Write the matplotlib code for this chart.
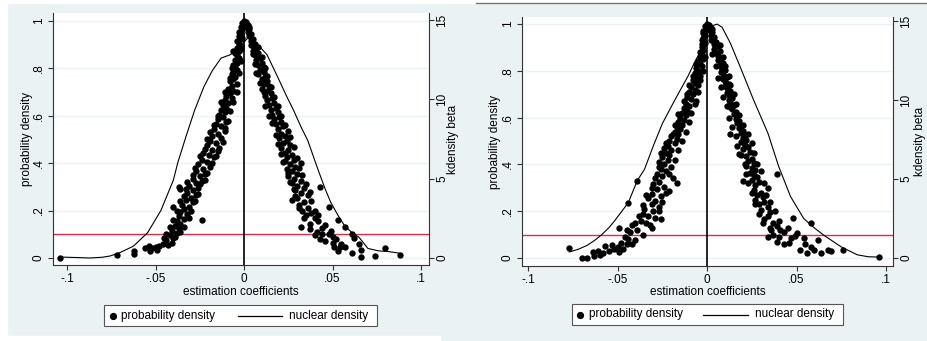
import matplotlib.pyplot as plt
from matplotlib.lines import Line2D
from matplotlib.patches import Rectangle

plt.rcParams['font.family'] = ['Liberation Sans', 'DejaVu Sans']

# ---- panel A: probability density dots (x, y) ----
a_dots = [
    (0.000, 1.000), (-0.001, 0.990), (0.000, 0.982), (-0.002, 0.975), (-0.001, 0.965), (-0.003, 0.955),
    (-0.002, 0.945), (-0.003, 0.935), (-0.002, 0.925), (-0.004, 0.915), (-0.003, 0.905), (-0.002, 0.895),
    (-0.004, 0.885), (-0.003, 0.875), (-0.005, 0.865), (-0.004, 0.855), (-0.003, 0.845), (-0.005, 0.835),
    (-0.004, 0.825), (-0.006, 0.815), (-0.005, 0.805), (-0.004, 0.795), (-0.006, 0.785), (-0.007, 0.775),
    (-0.005, 0.765), (-0.006, 0.755), (-0.008, 0.745), (-0.004, 0.735), (-0.007, 0.725), (-0.009, 0.715),
    (-0.006, 0.705), (-0.008, 0.695), (-0.010, 0.685), (-0.007, 0.675), (-0.011, 0.665), (-0.009, 0.655),
    (-0.012, 0.645), (-0.010, 0.635), (-0.013, 0.625), (-0.011, 0.615), (-0.014, 0.605), (-0.012, 0.595),
    (-0.015, 0.585), (-0.010, 0.575), (-0.016, 0.565), (-0.013, 0.555), (-0.017, 0.545), (-0.011, 0.535),
    (-0.015, 0.525), (-0.018, 0.515), (-0.013, 0.505), (-0.019, 0.495), (-0.016, 0.485), (-0.021, 0.475),
    (-0.014, 0.465), (-0.018, 0.455), (-0.023, 0.445), (-0.020, 0.435), (-0.017, 0.425), (-0.024, 0.415),
    (-0.021, 0.405), (-0.026, 0.395), (-0.019, 0.385), (-0.023, 0.375), (-0.027, 0.365), (-0.022, 0.355),
    (-0.025, 0.345), (-0.029, 0.335), (-0.024, 0.325), (-0.027, 0.315), (-0.031, 0.305), (-0.026, 0.295),
    (-0.037, 0.300), (-0.036, 0.290), (-0.029, 0.285), (-0.032, 0.275), (-0.027, 0.265), (-0.030, 0.255),
    (-0.033, 0.245), (-0.029, 0.235), (-0.035, 0.225), (-0.031, 0.215), (-0.040, 0.215), (-0.034, 0.205),
    (-0.036, 0.195), (-0.032, 0.185), (-0.037, 0.175), (-0.034, 0.165), (-0.024, 0.160), (-0.038, 0.155),
    (-0.036, 0.145), (-0.039, 0.135), (-0.037, 0.125), (-0.041, 0.115), (-0.038, 0.105), (-0.042, 0.095),
    (-0.040, 0.085), (-0.044, 0.075), (-0.041, 0.065), (-0.043, 0.055), (-0.046, 0.060), (-0.048, 0.050),
    (-0.050, 0.045), (-0.049, 0.035), (-0.052, 0.040), (-0.054, 0.050), (-0.053, 0.030), (-0.056, 0.040),
    (-0.062, 0.030), (-0.0625, 0.018), (-0.072, 0.013), (-0.104, 0.000),
    (-0.001, 0.930), (-0.002, 0.880), (-0.006, 0.875), (-0.002, 0.830), (-0.007, 0.800), (-0.003, 0.780),
    (-0.008, 0.760), (-0.004, 0.700), (-0.011, 0.700), (-0.006, 0.660), (-0.013, 0.660), (-0.008, 0.620),
    (-0.015, 0.600), (-0.009, 0.580), (-0.017, 0.560), (-0.011, 0.550), (-0.019, 0.530), (-0.012, 0.490),
    (-0.021, 0.500), (-0.015, 0.450), (-0.022, 0.460), (-0.016, 0.430), (-0.025, 0.430), (-0.018, 0.400),
    (-0.028, 0.380), (-0.021, 0.360), (-0.029, 0.350), (-0.022, 0.330), (-0.032, 0.320), (-0.025, 0.310),
    (-0.033, 0.290), (-0.026, 0.270), (-0.034, 0.260), (-0.028, 0.240), (-0.036, 0.240), (-0.030, 0.200),
    (-0.038, 0.200), (-0.031, 0.170), (-0.040, 0.160), (-0.034, 0.130), (-0.042, 0.130), (-0.036, 0.110),
    (-0.044, 0.100), (-0.039, 0.090), (-0.045, 0.085),
    (0.001, 0.995), (0.002, 0.985), (0.001, 0.975), (0.003, 0.965), (0.002, 0.955), (0.004, 0.945),
    (0.003, 0.935), (0.005, 0.925), (0.004, 0.915), (0.006, 0.905), (0.005, 0.895), (0.007, 0.885),
    (0.005, 0.875), (0.008, 0.865), (0.006, 0.855), (0.009, 0.845), (0.007, 0.835), (0.010, 0.825),
    (0.008, 0.815), (0.011, 0.805), (0.009, 0.795), (0.011, 0.785), (0.008, 0.775), (0.012, 0.765),
    (0.010, 0.755), (0.013, 0.745), (0.011, 0.735), (0.014, 0.725), (0.010, 0.715), (0.013, 0.705),
    (0.015, 0.695), (0.012, 0.685), (0.016, 0.675), (0.013, 0.665), (0.017, 0.655), (0.014, 0.645),
    (0.018, 0.635), (0.015, 0.625), (0.019, 0.615), (0.016, 0.605), (0.020, 0.595), (0.017, 0.585),
    (0.021, 0.575), (0.018, 0.565), (0.022, 0.555), (0.019, 0.545), (0.025, 0.535), (0.021, 0.525),
    (0.023, 0.515), (0.020, 0.505), (0.024, 0.495), (0.022, 0.485), (0.026, 0.475), (0.021, 0.465),
    (0.025, 0.455), (0.023, 0.445), (0.027, 0.435), (0.024, 0.425), (0.028, 0.415), (0.022, 0.405),
    (0.032, 0.400), (0.026, 0.395), (0.029, 0.385), (0.024, 0.375), (0.027, 0.365), (0.030, 0.355),
    (0.025, 0.345), (0.028, 0.335), (0.032, 0.325), (0.027, 0.315), (0.030, 0.305), (0.043, 0.300),
    (0.034, 0.295), (0.029, 0.285), (0.032, 0.275), (0.036, 0.265), (0.030, 0.255), (0.027, 0.245),
    (0.034, 0.235), (0.031, 0.225), (0.048, 0.215), (0.036, 0.210), (0.033, 0.200), (0.038, 0.190),
    (0.035, 0.180), (0.040, 0.170), (0.053, 0.160), (0.042, 0.155), (0.037, 0.145), (0.032, 0.130),
    (0.057, 0.130), (0.044, 0.125), (0.049, 0.115), (0.044, 0.100), (0.061, 0.100), (0.040, 0.095),
    (0.050, 0.090), (0.062, 0.084), (0.052, 0.080), (0.046, 0.070), (0.065, 0.060), (0.055, 0.060),
    (0.051, 0.047), (0.054, 0.047), (0.066, 0.034), (0.061, 0.020), (0.066, 0.004), (0.074, 0.008),
    (0.0795, 0.042), (0.088, 0.013),
    (0.003, 0.975), (0.004, 0.900), (0.008, 0.890), (0.005, 0.860), (0.010, 0.850), (0.006, 0.820),
    (0.012, 0.800), (0.007, 0.780), (0.013, 0.770), (0.009, 0.740), (0.015, 0.720), (0.011, 0.700),
    (0.017, 0.680), (0.012, 0.640), (0.019, 0.640), (0.014, 0.600), (0.021, 0.600), (0.016, 0.570),
    (0.023, 0.560), (0.018, 0.520), (0.026, 0.510), (0.019, 0.480), (0.028, 0.470), (0.021, 0.440),
    (0.030, 0.420), (0.023, 0.410), (0.031, 0.380), (0.025, 0.360), (0.033, 0.350), (0.026, 0.320),
    (0.035, 0.310), (0.028, 0.290), (0.037, 0.280), (0.029, 0.260), (0.038, 0.240), (0.031, 0.210),
    (0.040, 0.200), (0.034, 0.170), (0.042, 0.180), (0.037, 0.120), (0.046, 0.140), (0.041, 0.110),
    (0.048, 0.100), (0.043, 0.080), (0.050, 0.065), (0.057, 0.047), (0.053, 0.030),
]

# panel A: kernel density of beta (right axis)
a_kd_x = [-0.104, -0.095, -0.087, -0.080, -0.0756, -0.070, -0.0625, -0.0545, -0.047, -0.040,
          -0.0375, -0.033, -0.028, -0.0227, -0.018, -0.013, -0.008, -0.004, 0.000, 0.003,
          0.0057, 0.009, 0.013, 0.019, 0.024, 0.028, 0.032, 0.036, 0.042, 0.046,
          0.049, 0.053, 0.057, 0.061, 0.065, 0.070, 0.076, 0.082, 0.088]
a_kd_y = [0.06, 0.03, 0.00, 0.05, 0.13, 0.35, 0.75, 1.6, 3.0, 4.9,
          6.0, 7.6, 9.3, 10.8, 11.8, 12.6, 12.8, 13.1, 13.6, 14.0,
          13.7, 13.3, 12.8, 11.4, 10.2, 9.3, 8.3, 7.4, 5.5, 4.3,
          3.5, 2.7, 2.0, 1.6, 1.3, 0.6, 0.45, 0.4, 0.3]

# ---- panel B: probability density dots (x, y) ----
b_dots = [
    (0.000, 1.000), (-0.001, 0.990), (0.000, 0.980), (-0.001, 0.970), (-0.002, 0.960), (-0.001, 0.950),
    (-0.002, 0.940), (-0.003, 0.930), (-0.001, 0.920), (-0.002, 0.910), (-0.003, 0.900), (-0.002, 0.890),
    (-0.004, 0.880), (-0.003, 0.870), (-0.004, 0.860), (-0.002, 0.850), (-0.005, 0.840), (-0.004, 0.830),
    (-0.003, 0.820), (-0.006, 0.810), (-0.005, 0.800), (-0.007, 0.790), (-0.004, 0.780), (-0.006, 0.770),
    (-0.008, 0.760), (-0.007, 0.750), (-0.005, 0.740), (-0.009, 0.730), (-0.007, 0.720), (-0.010, 0.710),
    (-0.008, 0.700), (-0.011, 0.690), (-0.009, 0.680), (-0.006, 0.670), (-0.012, 0.660), (-0.010, 0.650),
    (-0.013, 0.640), (-0.011, 0.630), (-0.014, 0.620), (-0.012, 0.610), (-0.015, 0.600), (-0.013, 0.590),
    (-0.016, 0.580), (-0.014, 0.570), (-0.017, 0.560), (-0.015, 0.550), (-0.018, 0.540), (-0.016, 0.530),
    (-0.020, 0.520), (-0.017, 0.510), (-0.021, 0.500), (-0.018, 0.490), (-0.022, 0.480), (-0.024, 0.470),
    (-0.020, 0.460), (-0.023, 0.450), (-0.021, 0.440), (-0.025, 0.430), (-0.022, 0.420), (-0.027, 0.410),
    (-0.024, 0.400), (-0.020, 0.390), (-0.026, 0.380), (-0.023, 0.370), (-0.028, 0.360), (-0.025, 0.350),
    (-0.019, 0.340), (-0.039, 0.330), (-0.027, 0.325), (-0.030, 0.315), (-0.024, 0.305), (-0.028, 0.295),
    (-0.021, 0.285), (-0.031, 0.275), (-0.026, 0.265), (-0.033, 0.255), (-0.029, 0.245), (-0.044, 0.235),
    (-0.031, 0.230), (-0.027, 0.220), (-0.035, 0.210), (-0.030, 0.200), (-0.036, 0.190), (-0.033, 0.180),
    (-0.029, 0.170), (-0.037, 0.160), (-0.034, 0.150), (-0.042, 0.140), (-0.049, 0.130), (-0.031, 0.130),
    (-0.039, 0.120), (-0.043, 0.110), (-0.046, 0.090), (-0.040, 0.077), (-0.044, 0.080), (-0.048, 0.065),
    (-0.045, 0.060), (-0.050, 0.047), (-0.057, 0.050), (-0.052, 0.040), (-0.055, 0.030), (-0.049, 0.025),
    (-0.058, 0.020), (-0.061, 0.030), (-0.063, 0.010), (-0.067, 0.000), (-0.070, 0.000), (-0.077, 0.043),
    (-0.002, 0.970), (-0.003, 0.915), (-0.001, 0.860), (-0.006, 0.830), (-0.002, 0.800), (-0.008, 0.780),
    (-0.004, 0.760), (-0.010, 0.740), (-0.005, 0.710), (-0.011, 0.700), (-0.007, 0.660), (-0.013, 0.670),
    (-0.009, 0.620), (-0.016, 0.615), (-0.010, 0.580), (-0.018, 0.570), (-0.012, 0.540), (-0.019, 0.530),
    (-0.014, 0.500), (-0.023, 0.490), (-0.016, 0.460), (-0.026, 0.450), (-0.018, 0.420), (-0.027, 0.390),
    (-0.021, 0.360), (-0.029, 0.340), (-0.017, 0.320), (-0.031, 0.300), (-0.023, 0.280), (-0.034, 0.270),
    (-0.025, 0.240), (-0.036, 0.225), (-0.027, 0.200), (-0.038, 0.180), (-0.026, 0.165), (-0.040, 0.150),
    (-0.032, 0.140), (-0.045, 0.120), (-0.036, 0.100), (-0.042, 0.060), (-0.047, 0.040), (-0.053, 0.055),
    (-0.060, 0.015), (-0.064, 0.025),
    (0.001, 0.995), (0.002, 0.985), (0.001, 0.975), (0.003, 0.965), (0.002, 0.955), (0.004, 0.945),
    (0.003, 0.935), (0.005, 0.925), (0.004, 0.915), (0.006, 0.905), (0.004, 0.895), (0.007, 0.885),
    (0.005, 0.875), (0.006, 0.865), (0.008, 0.855), (0.006, 0.845), (0.009, 0.835), (0.007, 0.825),
    (0.008, 0.815), (0.010, 0.805), (0.008, 0.795), (0.009, 0.785), (0.011, 0.775), (0.009, 0.765),
    (0.010, 0.755), (0.012, 0.745), (0.010, 0.735), (0.011, 0.725), (0.013, 0.715), (0.011, 0.705),
    (0.012, 0.695), (0.014, 0.685), (0.012, 0.675), (0.013, 0.665), (0.015, 0.655), (0.013, 0.645),
    (0.014, 0.635), (0.016, 0.625), (0.015, 0.615), (0.017, 0.605), (0.016, 0.595), (0.018, 0.585),
    (0.017, 0.575), (0.019, 0.565), (0.018, 0.555), (0.020, 0.545), (0.013, 0.530), (0.019, 0.535),
    (0.021, 0.525), (0.020, 0.515), (0.022, 0.505), (0.019, 0.495), (0.021, 0.485), (0.023, 0.475),
    (0.020, 0.465), (0.024, 0.455), (0.018, 0.445), (0.022, 0.435), (0.025, 0.425), (0.023, 0.415),
    (0.026, 0.405), (0.022, 0.395), (0.025, 0.385), (0.027, 0.375), (0.024, 0.365), (0.039, 0.360),
    (0.026, 0.355), (0.028, 0.345), (0.025, 0.335), (0.020, 0.330), (0.029, 0.325), (0.027, 0.310),
    (0.034, 0.300), (0.026, 0.290), (0.030, 0.280), (0.028, 0.270), (0.031, 0.260), (0.027, 0.250),
    (0.032, 0.240), (0.029, 0.230), (0.034, 0.220), (0.030, 0.205), (0.035, 0.195), (0.034, 0.180),
    (0.048, 0.170), (0.032, 0.165), (0.037, 0.150), (0.058, 0.150), (0.039, 0.135), (0.045, 0.130),
    (0.041, 0.120), (0.036, 0.120), (0.0505, 0.107), (0.037, 0.100), (0.034, 0.090), (0.047, 0.085),
    (0.054, 0.085), (0.062, 0.077), (0.039, 0.070), (0.043, 0.060), (0.058, 0.047), (0.052, 0.034),
    (0.0675, 0.034), (0.069, 0.030), (0.0635, 0.020), (0.076, 0.034), (0.096, 0.004),
    (0.003, 0.980), (0.002, 0.930), (0.007, 0.910), (0.003, 0.870), (0.009, 0.860), (0.005, 0.820),
    (0.010, 0.820), (0.006, 0.770), (0.012, 0.780), (0.008, 0.730), (0.013, 0.740), (0.009, 0.690),
    (0.015, 0.700), (0.011, 0.650), (0.016, 0.660), (0.012, 0.600), (0.018, 0.610), (0.014, 0.560),
    (0.020, 0.570), (0.016, 0.520), (0.023, 0.530), (0.017, 0.480), (0.025, 0.490), (0.019, 0.440),
    (0.026, 0.450), (0.021, 0.400), (0.028, 0.400), (0.022, 0.360), (0.030, 0.370), (0.023, 0.320),
    (0.032, 0.320), (0.025, 0.280), (0.033, 0.270), (0.027, 0.230), (0.035, 0.240), (0.029, 0.190),
    (0.038, 0.200), (0.031, 0.150), (0.040, 0.160), (0.035, 0.130), (0.043, 0.110), (0.040, 0.090),
    (0.049, 0.095), (0.046, 0.065), (0.055, 0.060), (0.056, 0.020), (0.060, 0.035),
]

b_kd_x = [-0.077, -0.072, -0.067, -0.063, -0.059, -0.055, -0.052, -0.048, -0.044, -0.039,
          -0.035, -0.030, -0.025, -0.018, -0.0107, -0.006, -0.003, 0.000, 0.003, 0.0056,
          0.0084, 0.013, 0.0185, 0.026, 0.034, 0.040, 0.0466, 0.054, 0.060, 0.065,
          0.075, 0.084, 0.090, 0.096]
b_kd_y = [0.38, 0.55, 0.8, 1.1, 1.46, 1.9, 2.3, 2.9, 3.5, 4.9,
          5.6, 7.1, 8.5, 10.0, 11.5, 12.6, 13.2, 14.6, 14.7, 14.8,
          14.6, 13.6, 12.1, 10.0, 7.9, 5.8, 3.9, 2.5, 1.9, 1.46,
          0.7, 0.2, 0.08, 0.06]

x_ticks = [-0.1, -0.05, 0, 0.05, 0.1]
x_labels = ['-.1', '-.05', '0', '.05', '.1']
y_ticks = [0, 0.2, 0.4, 0.6, 0.8, 1]
y_labels = ['0', '.2', '.4', '.6', '.8', '1']
k_ticks = [0, 5, 10, 15]
k_labels = ['0', '5', '10', '15']
threshold = 0.1

W, H = 928, 341
BG = '#eaf2f3'
AXC = '#333333'
FS = 8.5


def fx(px):
    return px / W


def fy(py):
    return 1 - py / H


fig = plt.figure(figsize=(W / 100, H / 100), dpi=100, facecolor=BG)
# white margins of the screenshot
fig.patches.append(Rectangle((0, fy(3)), 1, 1 - fy(3), transform=fig.transFigure, color='white', zorder=0))
fig.patches.append(Rectangle((0, 0), fx(7), 1, transform=fig.transFigure, color='white', zorder=0))
fig.patches.append(Rectangle((0, 0), fx(440), fy(336), transform=fig.transFigure, color='white', zorder=0))
fig.add_artist(Line2D([fx(476), 1], [fy(3), fy(3)], color='#777777', lw=1))


def panel(rect, dots, kd_x, kd_y, xlim, ylim, klim, ylab_x, klab_x, xlab_y, leg):
    left, top, right, bottom = rect
    ax = fig.add_axes([fx(left), fy(bottom), fx(right - left), fy(top) - fy(bottom)])
    ax.set_facecolor('white')
    xs = [d[0] for d in dots]
    ys = [d[1] for d in dots]
    ax.axhline(threshold, color='#d2304f', lw=1.0, zorder=2)
    ax.scatter(xs, ys, s=21, color='black', linewidths=0, zorder=3)
    ax.axvline(0, color='black', lw=1.2, zorder=4)
    ax.set_xlim(*xlim)
    ax.set_ylim(*ylim)
    ax.set_xticks(x_ticks)
    ax.set_xticklabels(x_labels)
    ax.set_yticks(y_ticks)
    ax.set_yticklabels(y_labels)
    ax.yaxis.grid(True, color=BG, lw=1.0)
    ax.set_axisbelow(True)
    ax.tick_params(axis='both', length=3.6, width=0.8, color=AXC, labelsize=FS, pad=2.2)
    ax.tick_params(axis='y', labelrotation=90)
    for lab in ax.get_yticklabels():
        lab.set_va('center')
    for s in ('top', 'right'):
        ax.spines[s].set_visible(False)
    for s in ('left', 'bottom'):
        ax.spines[s].set_color(AXC)
        ax.spines[s].set_linewidth(0.8)

    tw = ax.twinx()
    tw.plot(kd_x, kd_y, color='black', lw=0.8, zorder=5)
    tw.set_ylim(*klim)
    tw.set_yticks(k_ticks)
    tw.set_yticklabels(k_labels)
    tw.tick_params(axis='y', length=3.6, width=0.8, color=AXC, labelsize=FS, pad=1.5, labelrotation=90)
    for lab in tw.get_yticklabels():
        lab.set_va('center')
    for s in ('top', 'left', 'bottom'):
        tw.spines[s].set_visible(False)
    tw.spines['right'].set_color(AXC)
    tw.spines['right'].set_linewidth(0.8)

    mid_y = (top + bottom) / 2
    mid_x = (left + right) / 2
    fig.text(fx(ylab_x), fy(mid_y), 'probability density', rotation=90, ha='center', va='center', fontsize=FS)
    fig.text(fx(klab_x), fy(mid_y), 'kdensity beta', rotation=90, ha='center', va='center', fontsize=FS)
    fig.text(fx(mid_x), fy(xlab_y), 'estimation coefficients', ha='center', va='center', fontsize=FS)

    # legend box drawn like Stata's
    bx0, bx1, by0, by1, dot_x, t1_x, l0, l1, t2_x = leg
    cy = fy((by0 + by1) / 2)
    fig.patches.append(Rectangle((fx(bx0), fy(by1)), fx(bx1 - bx0), fy(by0) - fy(by1),
                                 transform=fig.transFigure, facecolor='white', edgecolor='#555555', lw=0.8))
    fig.add_artist(Line2D([fx(dot_x)], [cy], marker='o', ms=4.2, color='black', lw=0))
    fig.text(fx(t1_x), cy, 'probability density', ha='left', va='center', fontsize=FS)
    fig.add_artist(Line2D([fx(l0), fx(l1)], [cy, cy], color='black', lw=0.9))
    fig.text(fx(t2_x), cy, 'nuclear density', ha='left', va='center', fontsize=FS)


panel((53, 13, 429, 265), a_dots, a_kd_x, a_kd_y,
      (-0.108, 0.1045), (-0.03, 1.034), (-0.441, 15.44),
      27, 453, 292, (104, 377, 305, 326, 113, 121, 238, 282, 289))
panel((522, 17, 893, 266), b_dots, b_kd_x, b_kd_y,
      (-0.1034, 0.1039), (-0.034, 1.030), (-0.506, 15.25),
      495, 920, 292, (572, 843, 304, 325, 580, 589, 703, 748, 755))

fig.savefig('out.png', dpi=100, facecolor=fig.get_facecolor())
